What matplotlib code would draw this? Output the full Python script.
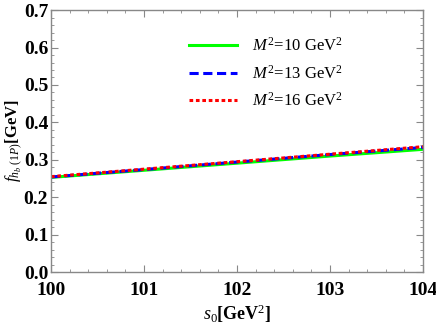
import matplotlib
matplotlib.use("Agg")
import matplotlib.pyplot as plt
from matplotlib.ticker import MultipleLocator

# =========================================================
# DATA
# =========================================================
s0      = [100, 101, 102, 103, 104]
f_m10   = [0.253, 0.272, 0.291, 0.310, 0.328]
f_m13   = [0.254, 0.274, 0.294, 0.314, 0.333]
f_m16   = [0.255, 0.275, 0.295, 0.315, 0.335]
labels  = [r"$M^2\!=\!10\ \mathrm{GeV}^2$",
           r"$M^2\!=\!13\ \mathrm{GeV}^2$",
           r"$M^2\!=\!16\ \mathrm{GeV}^2$"]

plt.rcParams["font.family"] = ["Liberation Serif", "DejaVu Serif"]
plt.rcParams["mathtext.fontset"] = "custom"
plt.rcParams["mathtext.rm"] = "Liberation Serif"
plt.rcParams["mathtext.it"] = "Liberation Serif:italic"
plt.rcParams["mathtext.bf"] = "Liberation Serif:bold"

fig = plt.figure(figsize=(4.36, 3.27), dpi=100)
ax = fig.add_axes([0.117, 0.168, 0.853, 0.801])

ax.plot(s0, f_m10, color="#00ff00", lw=2.2, ls="-", label=labels[0])
ax.plot(s0, f_m13, color="#0000ff", lw=2.2, ls=(0, (3, 1.5)), label=labels[1])
ax.plot(s0, f_m16, color="#ff0000", lw=2.2, ls=(0, (1.2, 0.9)), label=labels[2])

ax.set_xlim(100, 104)
ax.set_ylim(0, 0.7)
ax.xaxis.set_major_locator(MultipleLocator(1))
ax.xaxis.set_minor_locator(MultipleLocator(0.2))
ax.yaxis.set_major_locator(MultipleLocator(0.1))
ax.yaxis.set_minor_locator(MultipleLocator(0.02))
ax.yaxis.set_major_formatter(plt.FuncFormatter(lambda v, p: f"{v:.1f}"))

frame_col = "#888888"
for sp in ax.spines.values():
    sp.set_color(frame_col)
    sp.set_linewidth(1.0)
ax.tick_params(which="both", direction="in", top=True, right=True, color=frame_col)
ax.tick_params(which="major", length=5, width=0.8, labelsize=14)
ax.tick_params(which="minor", length=2.5, width=0.6)
ax.tick_params(axis="x", which="major", pad=7)
ax.tick_params(axis="y", which="major", pad=2)
for lab in ax.get_xticklabels() + ax.get_yticklabels():
    lab.set_fontweight("bold")

ax.set_xlabel(r"$s_0$[GeV$^2$]", fontsize=13, fontweight="bold")
ax.xaxis.set_label_coords(0.5, -0.115)
ax.set_ylabel(r"$f_{h_b\ (1P)}$[GeV]", fontsize=12, fontweight="bold")
ax.yaxis.set_label_coords(-0.07, 0.5)

leg = ax.legend(loc="upper left", bbox_to_anchor=(0.33, 0.955), frameon=False,
                fontsize=12, handlelength=2.9, handletextpad=0.9, labelspacing=0.58)

fig.savefig("out.png", dpi=100)
